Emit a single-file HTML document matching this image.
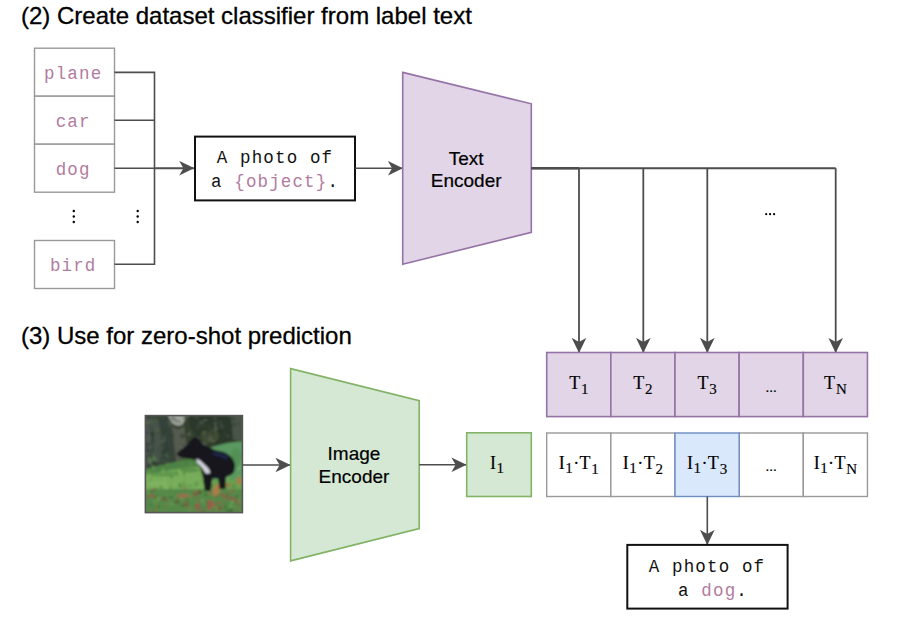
<!DOCTYPE html>
<html><head><meta charset="utf-8">
<style>
html,body{margin:0;padding:0;background:#fff;overflow:hidden;}
svg{display:block;}
.sans{font-family:"Liberation Sans",sans-serif;}
.mono{font-family:"Liberation Mono",monospace;}
.serif{font-family:"Liberation Serif",serif;}
</style></head><body>
<svg width="906" height="624" viewBox="0 0 906 624">
<defs>
<marker id="ah" viewBox="0 0 15 15" markerWidth="15" markerHeight="15" refX="14.6" refY="7.5" orient="auto" markerUnits="userSpaceOnUse">
<path d="M0,0.2 L15,7.5 L0,14.8 L4.2,7.5 Z" fill="#4d4d4d"/>
</marker>
</defs>
<rect width="906" height="624" fill="#fff"/>
<text class="sans" x="21" y="23.8" font-size="24" fill="#000" stroke="#000" stroke-width="0.3">(2) Create dataset classifier from label text</text>
<text class="sans" x="21" y="343.5" font-size="24" fill="#000" stroke="#000" stroke-width="0.3">(3) Use for zero-shot prediction</text>
<g fill="#fff" stroke="#999" stroke-width="1.4">
<rect x="34.5" y="48.2" width="80" height="48"/>
<rect x="34.5" y="96.2" width="80" height="48"/>
<rect x="34.5" y="144.2" width="80" height="48"/>
<rect x="34.5" y="240.5" width="80" height="48"/>
</g>
<g class="mono" font-size="17.5" letter-spacing="1.14" fill="#b27c9e" text-anchor="middle">
<text x="73.2" y="79.3">plane</text>
<text x="73.2" y="127.3">car</text>
<text x="73.2" y="175.3">dog</text>
<text x="73.2" y="271.3">bird</text>
</g>
<g fill="#000">
<circle cx="73.8" cy="211" r="1.2"/><circle cx="73.8" cy="216.5" r="1.2"/><circle cx="73.8" cy="222" r="1.2"/>
<circle cx="137.7" cy="211" r="1.2"/><circle cx="137.7" cy="216.5" r="1.2"/><circle cx="137.7" cy="222" r="1.2"/>
</g>
<g fill="none" stroke="#4d4d4d" stroke-width="1.6">
<path d="M114.5,72.4 H154.5 V264.3 H114.5"/>
<path d="M114.5,120.3 H154.5"/>
<path d="M114.5,168.2 H154.5"/>
</g>
<path d="M154.5,168.2 H193.8" stroke="#4d4d4d" stroke-width="2" marker-end="url(#ah)"/>
<rect x="195" y="136.6" width="160" height="63.8" fill="#fff" stroke="#111" stroke-width="2"/>
<g class="mono" font-size="17.5" letter-spacing="1.14" fill="#111" text-anchor="middle">
<text x="275" y="162.7">A photo of</text>
<text x="275" y="186.7">a <tspan fill="#b27c9e">{object}</tspan>.</text>
</g>
<path d="M355,168.3 H402.5" stroke="#4d4d4d" stroke-width="1.6" marker-end="url(#ah)"/>
<path d="M402.7,72.4 L531.3,103.8 L531.3,232.4 L402.7,264.2 Z" fill="#e1d5e7" stroke="#9673a6" stroke-width="1.6"/>
<g class="sans" font-size="19" fill="#000" stroke="#000" stroke-width="0.2" text-anchor="middle">
<text x="466.2" y="164.5">Text</text>
<text x="466.2" y="186.9">Encoder</text>
</g>
<path d="M531.3,168.2 H835.7" stroke="#4d4d4d" stroke-width="2" fill="none"/>
<path d="M531.3,168.2 H579" stroke="#4d4d4d" stroke-width="2.5" fill="none"/>
<g stroke="#4d4d4d" stroke-width="1.8" fill="none">
<path d="M579,168.2 V352.5" marker-end="url(#ah)"/>
<path d="M643.3,168.2 V352.5" marker-end="url(#ah)"/>
<path d="M707.3,168.2 V352.5" marker-end="url(#ah)"/>
<path d="M835.7,168.2 V352.5" marker-end="url(#ah)"/>
</g>
<g fill="#000"><circle cx="766.2" cy="214.2" r="1.1"/><circle cx="770.1" cy="214.2" r="1.1"/><circle cx="774.1" cy="214.2" r="1.1"/></g>

<g fill="#e1d5e7" stroke="#9673a6" stroke-width="1.6">
<rect x="546.70" y="352.5" width="64.15" height="64.1"/>
<rect x="610.85" y="352.5" width="64.15" height="64.1"/>
<rect x="675.00" y="352.5" width="64.15" height="64.1"/>
<rect x="739.15" y="352.5" width="64.15" height="64.1"/>
<rect x="803.30" y="352.5" width="64.15" height="64.1"/>
</g>
<g fill="#fff" stroke="#999" stroke-width="1.4">
<rect x="546.70" y="433" width="64.15" height="63.5"/>
<rect x="610.85" y="433" width="64.15" height="63.5"/>
<rect x="739.15" y="433" width="64.15" height="63.5"/>
<rect x="803.30" y="433" width="64.15" height="63.5"/>
</g>
<rect x="675.00" y="433" width="64.15" height="63.5" fill="#dae8fc" stroke="#6c8ebf" stroke-width="1.4"/>
<g class="serif" font-size="18" fill="#000" stroke="#000" stroke-width="0.15" text-anchor="middle">
<text x="578.8" y="389">T<tspan font-size="15" dx="0.8" dy="4.8">1</tspan></text>
<text x="578.8" y="468.8">I<tspan font-size="15" dx="0.5" dy="4">1</tspan><tspan dy="-4" dx="0.4">·</tspan><tspan dx="0.4">T</tspan><tspan font-size="15" dx="0.8" dy="4.8">1</tspan></text>
<text x="642.9" y="389">T<tspan font-size="15" dx="0.8" dy="4.8">2</tspan></text>
<text x="642.9" y="468.8">I<tspan font-size="15" dx="0.5" dy="4">1</tspan><tspan dy="-4" dx="0.4">·</tspan><tspan dx="0.4">T</tspan><tspan font-size="15" dx="0.8" dy="4.8">2</tspan></text>
<text x="707.1" y="389">T<tspan font-size="15" dx="0.8" dy="4.8">3</tspan></text>
<text x="707.1" y="468.8">I<tspan font-size="15" dx="0.5" dy="4">1</tspan><tspan dy="-4" dx="0.4">·</tspan><tspan dx="0.4">T</tspan><tspan font-size="15" dx="0.8" dy="4.8">3</tspan></text>
<text x="835.4" y="389">T<tspan font-size="15" dx="0.8" dy="4.8">N</tspan></text>
<text x="835.4" y="468.8">I<tspan font-size="15" dx="0.5" dy="4">1</tspan><tspan dy="-4" dx="0.4">·</tspan><tspan dx="0.4">T</tspan><tspan font-size="15" dx="0.8" dy="4.8">N</tspan></text>
<text x="771.2" y="391.5" font-size="15">...</text>
<text x="771.2" y="471" font-size="15">...</text>
</g>
<path d="M707.3,496.5 V544.5" stroke="#4d4d4d" stroke-width="1.6" marker-end="url(#ah)"/>
<rect x="627.3" y="544.9" width="160.3" height="63.7" fill="#fff" stroke="#111" stroke-width="2"/>
<g class="mono" font-size="17.5" letter-spacing="1.14" fill="#111" text-anchor="middle">
<text x="707" y="571.8">A photo of</text>
<text x="713" y="595.9">a <tspan fill="#b27c9e">dog</tspan>.</text>
</g>
<g id="photo">
<defs>
<clipPath id="pc"><rect x="145.4" y="415.6" width="97" height="97"/></clipPath>
<filter id="bl" x="-10%" y="-10%" width="120%" height="120%"><feGaussianBlur stdDeviation="1.0"/></filter>
</defs>
<g clip-path="url(#pc)">
<g filter="url(#bl)">
<rect x="140" y="410" width="110" height="110" fill="#68a050"/>
<path d="M140,410 H250 V444 Q232,443 212,447 L200,456 Q176,464 140,470 Z" fill="#35412f"/>
<path d="M146,417 Q158,414 170,418 Q176,440 174,467 L146,470 Z" fill="#34423a"/>
<path d="M146,417 L152,417 Q150,440 152,466 L146,468 Z" fill="#5a625c" opacity="0.7"/>
<path d="M150,420 Q156,440 152,462 L160,462 Q164,440 158,420 Z" fill="#56645a" opacity="0.5"/>
<path d="M167,414 H187 L183,424 Q178,428 172,423 Z" fill="#c4c8c6" opacity="0.75"/>
<path d="M172,426 Q178,432 184,426 L188,456 L176,462 Z" fill="#6a6d68" opacity="0.6"/>
<path d="M184,410 H250 V441 Q230,441 212,446 L196,437 Z" fill="#2c372b"/>
<ellipse cx="210" cy="436" rx="9" ry="7" fill="#56643e" opacity="0.5"/>
<path d="M231,414 H250 V440 H233 Z" fill="#525c4e" opacity="0.8"/>
<ellipse cx="188.9" cy="433.9" rx="1.7" ry="2.3" fill="#647060" opacity="0.6"/>
<ellipse cx="163.4" cy="441.7" rx="1.9" ry="2.2" fill="#647060" opacity="0.6"/>
<ellipse cx="154.1" cy="425.7" rx="1.8" ry="2.3" fill="#46544a" opacity="0.6"/>
<ellipse cx="206.5" cy="435.1" rx="2.4" ry="2.0" fill="#3c4a3e" opacity="0.6"/>
<ellipse cx="204.7" cy="421.0" rx="2.2" ry="1.1" fill="#28322a" opacity="0.6"/>
<ellipse cx="148.5" cy="444.1" rx="2.2" ry="1.5" fill="#28322a" opacity="0.6"/>
<ellipse cx="202.3" cy="422.3" rx="2.0" ry="1.7" fill="#52604c" opacity="0.6"/>
<ellipse cx="209.3" cy="430.6" rx="1.6" ry="1.8" fill="#2c3629" opacity="0.6"/>
<ellipse cx="235.4" cy="418.7" rx="1.5" ry="1.3" fill="#2c3629" opacity="0.6"/>
<ellipse cx="173.0" cy="418.2" rx="1.6" ry="2.3" fill="#46544a" opacity="0.6"/>
<ellipse cx="182.5" cy="446.7" rx="1.3" ry="2.4" fill="#28322a" opacity="0.6"/>
<ellipse cx="150.1" cy="428.0" rx="1.6" ry="1.8" fill="#3c4a3e" opacity="0.6"/>
<ellipse cx="164.3" cy="437.6" rx="1.1" ry="1.5" fill="#5a6842" opacity="0.6"/>
<ellipse cx="238.5" cy="440.3" rx="1.2" ry="2.1" fill="#46544a" opacity="0.6"/>
<ellipse cx="146.1" cy="430.9" rx="1.3" ry="1.8" fill="#647060" opacity="0.6"/>
<ellipse cx="188.4" cy="422.1" rx="1.6" ry="1.6" fill="#34402f" opacity="0.6"/>
<ellipse cx="183.3" cy="447.7" rx="1.4" ry="2.5" fill="#28322a" opacity="0.6"/>
<ellipse cx="222.9" cy="425.7" rx="1.3" ry="1.6" fill="#28322a" opacity="0.6"/>
<ellipse cx="227.9" cy="436.5" rx="1.1" ry="1.2" fill="#46544a" opacity="0.6"/>
<ellipse cx="187.8" cy="416.3" rx="2.2" ry="1.6" fill="#5a6842" opacity="0.6"/>
<ellipse cx="152.2" cy="422.7" rx="1.0" ry="1.6" fill="#52604c" opacity="0.6"/>
<ellipse cx="205.3" cy="420.1" rx="2.2" ry="1.2" fill="#647060" opacity="0.6"/>
<ellipse cx="182.5" cy="436.1" rx="2.4" ry="2.2" fill="#2c3629" opacity="0.6"/>
<ellipse cx="169.2" cy="422.1" rx="2.0" ry="1.6" fill="#52604c" opacity="0.6"/>
<ellipse cx="191.8" cy="418.5" rx="1.2" ry="1.1" fill="#28322a" opacity="0.6"/>
<ellipse cx="238.4" cy="423.6" rx="1.4" ry="2.2" fill="#3c4a3e" opacity="0.6"/>
<ellipse cx="202.9" cy="425.4" rx="2.4" ry="2.5" fill="#34402f" opacity="0.6"/>
<ellipse cx="157.3" cy="431.3" rx="1.4" ry="2.4" fill="#46544a" opacity="0.6"/>
<ellipse cx="164.8" cy="416.5" rx="1.6" ry="1.4" fill="#2c3629" opacity="0.6"/>
<ellipse cx="149.5" cy="425.0" rx="1.1" ry="1.2" fill="#34402f" opacity="0.6"/>
<ellipse cx="188.7" cy="426.6" rx="1.9" ry="2.4" fill="#34402f" opacity="0.6"/>
<ellipse cx="191.1" cy="427.4" rx="2.4" ry="1.0" fill="#2c3629" opacity="0.6"/>
<ellipse cx="206.7" cy="431.4" rx="1.5" ry="2.5" fill="#2c3629" opacity="0.6"/>
<ellipse cx="152.3" cy="433.5" rx="2.4" ry="2.1" fill="#28322a" opacity="0.6"/>
<ellipse cx="213.3" cy="441.4" rx="1.5" ry="2.0" fill="#5a6842" opacity="0.6"/>
<ellipse cx="232.4" cy="443.9" rx="2.4" ry="1.0" fill="#3c4a3e" opacity="0.6"/>
<ellipse cx="193.5" cy="416.5" rx="1.6" ry="1.0" fill="#3c4a3e" opacity="0.6"/>
<ellipse cx="152.0" cy="418.9" rx="2.5" ry="2.3" fill="#46544a" opacity="0.6"/>
<ellipse cx="215.6" cy="428.4" rx="1.7" ry="2.3" fill="#647060" opacity="0.6"/>
<ellipse cx="153.1" cy="440.0" rx="1.5" ry="1.1" fill="#28322a" opacity="0.6"/>
<ellipse cx="147.2" cy="446.6" rx="1.7" ry="1.9" fill="#46544a" opacity="0.6"/>
<ellipse cx="234.3" cy="424.2" rx="1.6" ry="1.2" fill="#28322a" opacity="0.6"/>
<ellipse cx="204.3" cy="432.6" rx="2.0" ry="1.7" fill="#5a6842" opacity="0.6"/>
<ellipse cx="231.5" cy="426.5" rx="1.3" ry="1.6" fill="#2c3629" opacity="0.6"/>
<ellipse cx="223.2" cy="445.3" rx="1.6" ry="1.9" fill="#52604c" opacity="0.6"/>
<ellipse cx="175.7" cy="420.4" rx="1.5" ry="2.3" fill="#647060" opacity="0.6"/>
<ellipse cx="148.9" cy="418.1" rx="2.2" ry="1.2" fill="#2c3629" opacity="0.6"/>
<ellipse cx="190.7" cy="445.6" rx="1.6" ry="1.8" fill="#3c4a3e" opacity="0.6"/>
<ellipse cx="210.2" cy="438.9" rx="1.5" ry="2.2" fill="#647060" opacity="0.6"/>
<ellipse cx="172.0" cy="435.4" rx="1.9" ry="1.5" fill="#2c3629" opacity="0.6"/>
<ellipse cx="221.8" cy="416.6" rx="1.6" ry="1.3" fill="#34402f" opacity="0.6"/>
<ellipse cx="219.6" cy="424.5" rx="2.2" ry="2.5" fill="#34402f" opacity="0.6"/>
<ellipse cx="156.2" cy="419.5" rx="2.4" ry="2.0" fill="#5a6842" opacity="0.6"/>
<ellipse cx="164.3" cy="431.2" rx="2.1" ry="2.1" fill="#34402f" opacity="0.6"/>
<ellipse cx="196.9" cy="417.2" rx="1.4" ry="1.5" fill="#52604c" opacity="0.6"/>
<ellipse cx="212.6" cy="432.7" rx="1.6" ry="2.2" fill="#34402f" opacity="0.6"/>
<ellipse cx="232.9" cy="418.8" rx="1.2" ry="1.7" fill="#3c4a3e" opacity="0.6"/>
<ellipse cx="205.7" cy="445.1" rx="1.8" ry="2.0" fill="#3c4a3e" opacity="0.6"/>
<ellipse cx="193.8" cy="442.2" rx="1.7" ry="2.0" fill="#5a6842" opacity="0.6"/>
<ellipse cx="164.9" cy="439.1" rx="1.3" ry="2.3" fill="#46544a" opacity="0.6"/>
<ellipse cx="240.1" cy="447.3" rx="1.4" ry="2.1" fill="#5a6842" opacity="0.6"/>
<ellipse cx="146.5" cy="432.2" rx="1.7" ry="1.8" fill="#28322a" opacity="0.6"/>
<ellipse cx="219.5" cy="431.6" rx="1.3" ry="2.3" fill="#28322a" opacity="0.6"/>
<ellipse cx="186.6" cy="417.1" rx="2.0" ry="2.4" fill="#5a6842" opacity="0.6"/>
<ellipse cx="190.6" cy="448.0" rx="2.4" ry="1.7" fill="#647060" opacity="0.6"/>
<ellipse cx="237.1" cy="418.8" rx="1.7" ry="1.8" fill="#52604c" opacity="0.6"/>
<ellipse cx="225.6" cy="434.0" rx="1.8" ry="2.3" fill="#34402f" opacity="0.6"/>
<ellipse cx="199.3" cy="426.0" rx="2.4" ry="2.3" fill="#3c4a3e" opacity="0.6"/>
<ellipse cx="204.1" cy="425.7" rx="2.5" ry="1.8" fill="#34402f" opacity="0.6"/>
<ellipse cx="200.6" cy="422.4" rx="1.8" ry="1.9" fill="#46544a" opacity="0.6"/>
<ellipse cx="147.7" cy="447.0" rx="1.8" ry="2.5" fill="#3c4a3e" opacity="0.6"/>
<ellipse cx="156.8" cy="419.0" rx="1.1" ry="1.8" fill="#34402f" opacity="0.6"/>
<ellipse cx="185.1" cy="446.6" rx="1.4" ry="1.7" fill="#3c4a3e" opacity="0.6"/>
<ellipse cx="157.3" cy="429.9" rx="1.8" ry="1.2" fill="#647060" opacity="0.6"/>
<ellipse cx="185.7" cy="416.9" rx="1.2" ry="2.2" fill="#2c3629" opacity="0.6"/>
<ellipse cx="147.2" cy="422.2" rx="1.0" ry="1.4" fill="#52604c" opacity="0.6"/>
<ellipse cx="215.2" cy="423.8" rx="1.2" ry="2.1" fill="#647060" opacity="0.6"/>
<ellipse cx="156.9" cy="432.3" rx="2.1" ry="2.1" fill="#2c3629" opacity="0.6"/>
<ellipse cx="230.2" cy="416.7" rx="2.2" ry="1.9" fill="#3c4a3e" opacity="0.6"/>
<ellipse cx="197.2" cy="443.6" rx="1.8" ry="2.3" fill="#52604c" opacity="0.6"/>
<ellipse cx="204.3" cy="443.4" rx="2.4" ry="1.9" fill="#52604c" opacity="0.6"/>
<ellipse cx="178.7" cy="421.8" rx="2.3" ry="1.3" fill="#5a6842" opacity="0.6"/>
<ellipse cx="220.5" cy="422.2" rx="1.2" ry="1.4" fill="#46544a" opacity="0.6"/>
<ellipse cx="215.5" cy="424.3" rx="1.7" ry="2.4" fill="#46544a" opacity="0.6"/>
<ellipse cx="197.7" cy="438.6" rx="1.6" ry="2.0" fill="#52604c" opacity="0.6"/>
<ellipse cx="146.7" cy="422.4" rx="2.4" ry="2.5" fill="#5a6842" opacity="0.6"/>
<ellipse cx="156.2" cy="432.2" rx="1.8" ry="2.0" fill="#5a6842" opacity="0.6"/>
<ellipse cx="163.3" cy="418.3" rx="1.0" ry="2.1" fill="#46544a" opacity="0.6"/>
<ellipse cx="204.5" cy="445.0" rx="1.2" ry="1.3" fill="#647060" opacity="0.6"/>
<ellipse cx="164.8" cy="442.9" rx="2.4" ry="1.1" fill="#2c3629" opacity="0.6"/>
<ellipse cx="151.0" cy="446.4" rx="1.1" ry="1.1" fill="#647060" opacity="0.6"/>
<ellipse cx="182.9" cy="429.6" rx="1.6" ry="1.9" fill="#5a6842" opacity="0.6"/>
<ellipse cx="146.3" cy="438.4" rx="1.3" ry="1.7" fill="#52604c" opacity="0.6"/>
<ellipse cx="216.7" cy="429.0" rx="1.9" ry="1.1" fill="#52604c" opacity="0.6"/>
<ellipse cx="221.9" cy="426.4" rx="2.2" ry="2.1" fill="#46544a" opacity="0.6"/>
<ellipse cx="228.5" cy="436.1" rx="1.9" ry="1.3" fill="#3c4a3e" opacity="0.6"/>
<ellipse cx="201.7" cy="426.9" rx="1.4" ry="1.2" fill="#2c3629" opacity="0.6"/>
<ellipse cx="217.1" cy="421.1" rx="1.2" ry="1.5" fill="#3c4a3e" opacity="0.6"/>
<ellipse cx="197.3" cy="427.8" rx="2.1" ry="1.6" fill="#3c4a3e" opacity="0.6"/>
<ellipse cx="215.1" cy="418.3" rx="1.5" ry="1.2" fill="#5a6842" opacity="0.6"/>
<ellipse cx="231.1" cy="447.7" rx="1.3" ry="2.4" fill="#28322a" opacity="0.6"/>
<ellipse cx="209.6" cy="426.8" rx="1.9" ry="1.8" fill="#3c4a3e" opacity="0.6"/>
<ellipse cx="182.8" cy="448.0" rx="2.1" ry="2.1" fill="#52604c" opacity="0.6"/>
<ellipse cx="240.1" cy="416.7" rx="2.1" ry="1.4" fill="#46544a" opacity="0.6"/>
<ellipse cx="184.0" cy="417.6" rx="2.0" ry="1.0" fill="#52604c" opacity="0.6"/>
<ellipse cx="170.1" cy="424.8" rx="1.8" ry="1.8" fill="#5a6842" opacity="0.6"/>
<ellipse cx="238.8" cy="434.2" rx="2.0" ry="2.2" fill="#46544a" opacity="0.6"/>
<ellipse cx="152.4" cy="435.1" rx="1.6" ry="2.4" fill="#28322a" opacity="0.6"/>
<ellipse cx="182.4" cy="447.0" rx="1.8" ry="1.9" fill="#647060" opacity="0.6"/>
<ellipse cx="186.7" cy="431.8" rx="1.8" ry="1.9" fill="#2c3629" opacity="0.6"/>
<ellipse cx="155.5" cy="452.3" rx="1.8" ry="1.4" fill="#34402f" opacity="0.6"/>
<ellipse cx="164.6" cy="452.5" rx="2.2" ry="1.9" fill="#28322a" opacity="0.6"/>
<ellipse cx="162.5" cy="455.0" rx="1.1" ry="1.5" fill="#52604c" opacity="0.6"/>
<ellipse cx="156.3" cy="458.8" rx="1.1" ry="2.4" fill="#34402f" opacity="0.6"/>
<ellipse cx="157.2" cy="456.5" rx="1.1" ry="1.1" fill="#46544a" opacity="0.6"/>
<ellipse cx="167.1" cy="466.0" rx="2.5" ry="2.2" fill="#46544a" opacity="0.6"/>
<ellipse cx="161.7" cy="448.5" rx="1.7" ry="1.3" fill="#52604c" opacity="0.6"/>
<ellipse cx="147.4" cy="457.6" rx="1.5" ry="1.2" fill="#28322a" opacity="0.6"/>
<ellipse cx="156.8" cy="459.2" rx="1.5" ry="2.1" fill="#52604c" opacity="0.6"/>
<ellipse cx="167.2" cy="449.0" rx="2.1" ry="1.4" fill="#34402f" opacity="0.6"/>
<ellipse cx="149.0" cy="465.6" rx="1.4" ry="1.9" fill="#34402f" opacity="0.6"/>
<ellipse cx="164.9" cy="461.4" rx="1.9" ry="2.1" fill="#46544a" opacity="0.6"/>
<ellipse cx="150.9" cy="451.5" rx="2.3" ry="1.1" fill="#46544a" opacity="0.6"/>
<ellipse cx="147.6" cy="452.0" rx="1.0" ry="1.1" fill="#52604c" opacity="0.6"/>
<ellipse cx="151.8" cy="452.1" rx="2.4" ry="1.2" fill="#28322a" opacity="0.6"/>
<ellipse cx="152.1" cy="467.6" rx="1.7" ry="1.3" fill="#52604c" opacity="0.6"/>
<ellipse cx="154.9" cy="462.4" rx="2.2" ry="1.7" fill="#28322a" opacity="0.6"/>
<ellipse cx="167.4" cy="464.4" rx="1.7" ry="2.1" fill="#46544a" opacity="0.6"/>
<ellipse cx="156.1" cy="449.3" rx="2.0" ry="2.5" fill="#46544a" opacity="0.6"/>
<ellipse cx="154.5" cy="458.1" rx="1.6" ry="1.6" fill="#46544a" opacity="0.6"/>
<ellipse cx="148.5" cy="465.3" rx="1.8" ry="1.6" fill="#28322a" opacity="0.6"/>
<ellipse cx="160.8" cy="463.9" rx="1.4" ry="2.2" fill="#52604c" opacity="0.6"/>
<ellipse cx="148.0" cy="450.7" rx="2.0" ry="1.7" fill="#28322a" opacity="0.6"/>
<ellipse cx="165.9" cy="453.2" rx="1.3" ry="2.0" fill="#46544a" opacity="0.6"/>
<ellipse cx="154.5" cy="465.9" rx="2.1" ry="1.9" fill="#34402f" opacity="0.6"/>
<ellipse cx="169.9" cy="466.7" rx="1.7" ry="2.2" fill="#34402f" opacity="0.6"/>
<ellipse cx="153.9" cy="453.0" rx="2.5" ry="2.1" fill="#52604c" opacity="0.6"/>
<ellipse cx="159.4" cy="447.9" rx="1.0" ry="2.0" fill="#34402f" opacity="0.6"/>
<ellipse cx="161.2" cy="463.5" rx="2.2" ry="1.8" fill="#34402f" opacity="0.6"/>
<ellipse cx="167.7" cy="458.4" rx="1.1" ry="1.7" fill="#46544a" opacity="0.6"/>
<ellipse cx="168.2" cy="463.9" rx="1.8" ry="1.8" fill="#46544a" opacity="0.6"/>
<ellipse cx="160.8" cy="467.3" rx="1.1" ry="1.8" fill="#52604c" opacity="0.6"/>
<ellipse cx="166.5" cy="447.8" rx="1.4" ry="1.2" fill="#28322a" opacity="0.6"/>
<ellipse cx="154.2" cy="446.6" rx="1.1" ry="2.2" fill="#46544a" opacity="0.6"/>
<ellipse cx="157.0" cy="461.7" rx="2.1" ry="1.8" fill="#52604c" opacity="0.6"/>
<ellipse cx="165.9" cy="454.7" rx="2.2" ry="1.5" fill="#34402f" opacity="0.6"/>
<ellipse cx="149.6" cy="456.7" rx="2.1" ry="2.4" fill="#28322a" opacity="0.6"/>
<ellipse cx="156.7" cy="464.2" rx="2.3" ry="2.2" fill="#34402f" opacity="0.6"/>
<ellipse cx="167.7" cy="465.6" rx="1.8" ry="2.1" fill="#28322a" opacity="0.6"/>
<ellipse cx="166.9" cy="455.3" rx="2.4" ry="1.4" fill="#52604c" opacity="0.6"/>
<path d="M210,448 Q230,441 250,441 V480 H210 Z" fill="#5a9a62"/>
<path d="M140,470 Q172,462 206,456 L206,474 H140 Z" fill="#4e8244"/>
<path d="M140,476 Q172,468 210,466 V490 H140 Z" fill="#78ae5a"/>
<path d="M140,489 H250 V520 H140 Z" fill="#558848"/>
<ellipse cx="165" cy="474" rx="14" ry="3" fill="#4f8a44" opacity="0.6"/>
<ellipse cx="190" cy="470" rx="10" ry="2.5" fill="#4a8040" opacity="0.6"/>
<ellipse cx="158" cy="484" rx="10" ry="2.5" fill="#86b866" opacity="0.6"/>
<ellipse cx="185" cy="486" rx="9" ry="2" fill="#5e964a" opacity="0.5"/>
<ellipse cx="236" cy="458" rx="6" ry="10" fill="#4f8a50" opacity="0.6"/>
<line x1="160.7" y1="492.3" x2="159.9" y2="489.8" stroke="#6aa050" stroke-width="1.1" opacity="0.7"/>
<line x1="173.3" y1="510.4" x2="174.3" y2="507.0" stroke="#4a7e40" stroke-width="1.0" opacity="0.7"/>
<line x1="160.1" y1="507.7" x2="157.6" y2="503.4" stroke="#4a7e40" stroke-width="1.2" opacity="0.7"/>
<line x1="222.6" y1="474.9" x2="221.8" y2="472.3" stroke="#7aae5a" stroke-width="1.0" opacity="0.7"/>
<line x1="214.6" y1="490.1" x2="216.1" y2="486.8" stroke="#7aae5a" stroke-width="1.1" opacity="0.7"/>
<line x1="233.3" y1="508.6" x2="234.7" y2="505.0" stroke="#6aa050" stroke-width="1.2" opacity="0.7"/>
<line x1="170.3" y1="505.9" x2="171.6" y2="501.9" stroke="#5e9448" stroke-width="0.9" opacity="0.7"/>
<line x1="228.7" y1="479.6" x2="230.4" y2="474.7" stroke="#7aae5a" stroke-width="1.1" opacity="0.7"/>
<line x1="196.2" y1="485.9" x2="193.9" y2="481.5" stroke="#5e9448" stroke-width="1.5" opacity="0.7"/>
<line x1="231.5" y1="505.2" x2="230.5" y2="501.8" stroke="#5e9448" stroke-width="1.1" opacity="0.7"/>
<line x1="229.9" y1="480.5" x2="231.1" y2="478.0" stroke="#5e9448" stroke-width="1.4" opacity="0.7"/>
<line x1="157.7" y1="498.1" x2="157.8" y2="495.3" stroke="#3c6a34" stroke-width="0.9" opacity="0.7"/>
<line x1="219.7" y1="458.1" x2="217.5" y2="453.6" stroke="#7aae5a" stroke-width="1.0" opacity="0.7"/>
<line x1="214.5" y1="463.2" x2="212.5" y2="459.2" stroke="#8cc06c" stroke-width="1.4" opacity="0.7"/>
<line x1="197.7" y1="485.3" x2="197.3" y2="481.0" stroke="#4a7e40" stroke-width="1.5" opacity="0.7"/>
<line x1="153.8" y1="502.6" x2="153.6" y2="500.5" stroke="#7aae5a" stroke-width="1.2" opacity="0.7"/>
<line x1="236.8" y1="510.1" x2="235.3" y2="507.1" stroke="#5e9448" stroke-width="1.0" opacity="0.7"/>
<line x1="190.3" y1="496.6" x2="189.4" y2="494.4" stroke="#5e9448" stroke-width="1.3" opacity="0.7"/>
<line x1="210.6" y1="498.3" x2="208.2" y2="494.4" stroke="#4a7e40" stroke-width="1.1" opacity="0.7"/>
<line x1="213.9" y1="470.8" x2="214.6" y2="468.5" stroke="#3c6a34" stroke-width="1.5" opacity="0.7"/>
<line x1="226.9" y1="496.8" x2="227.3" y2="494.4" stroke="#3c6a34" stroke-width="1.5" opacity="0.7"/>
<line x1="217.7" y1="509.5" x2="215.9" y2="505.9" stroke="#8cc06c" stroke-width="1.0" opacity="0.7"/>
<line x1="181.5" y1="463.9" x2="181.9" y2="459.1" stroke="#5e9448" stroke-width="1.4" opacity="0.7"/>
<line x1="177.2" y1="502.7" x2="177.5" y2="500.3" stroke="#4a7e40" stroke-width="0.9" opacity="0.7"/>
<line x1="206.1" y1="467.7" x2="207.4" y2="464.5" stroke="#7aae5a" stroke-width="1.3" opacity="0.7"/>
<line x1="153.7" y1="470.2" x2="153.3" y2="465.3" stroke="#7aae5a" stroke-width="1.4" opacity="0.7"/>
<line x1="178.1" y1="502.5" x2="177.3" y2="500.0" stroke="#3c6a34" stroke-width="0.9" opacity="0.7"/>
<line x1="212.1" y1="484.1" x2="213.1" y2="480.2" stroke="#8cc06c" stroke-width="1.3" opacity="0.7"/>
<line x1="175.8" y1="500.6" x2="176.3" y2="496.6" stroke="#7aae5a" stroke-width="0.8" opacity="0.7"/>
<line x1="177.1" y1="476.5" x2="177.3" y2="473.2" stroke="#6aa050" stroke-width="1.0" opacity="0.7"/>
<line x1="177.3" y1="473.8" x2="175.7" y2="470.0" stroke="#4a7e40" stroke-width="1.4" opacity="0.7"/>
<line x1="232.6" y1="487.6" x2="232.7" y2="483.8" stroke="#5e9448" stroke-width="1.3" opacity="0.7"/>
<line x1="164.2" y1="508.4" x2="166.4" y2="504.3" stroke="#6aa050" stroke-width="1.3" opacity="0.7"/>
<line x1="147.6" y1="493.6" x2="147.5" y2="491.2" stroke="#4a7e40" stroke-width="1.1" opacity="0.7"/>
<line x1="177.4" y1="463.0" x2="178.6" y2="460.2" stroke="#5e9448" stroke-width="1.2" opacity="0.7"/>
<line x1="215.8" y1="470.9" x2="216.1" y2="467.3" stroke="#3c6a34" stroke-width="1.2" opacity="0.7"/>
<line x1="170.6" y1="507.1" x2="168.9" y2="503.3" stroke="#5e9448" stroke-width="1.5" opacity="0.7"/>
<line x1="173.0" y1="506.4" x2="172.3" y2="502.2" stroke="#7aae5a" stroke-width="0.9" opacity="0.7"/>
<line x1="203.0" y1="501.8" x2="202.2" y2="499.7" stroke="#8cc06c" stroke-width="1.6" opacity="0.7"/>
<line x1="236.1" y1="493.6" x2="237.9" y2="489.3" stroke="#5e9448" stroke-width="1.5" opacity="0.7"/>
<line x1="204.7" y1="492.6" x2="204.4" y2="490.1" stroke="#4a7e40" stroke-width="0.8" opacity="0.7"/>
<line x1="196.2" y1="464.4" x2="196.3" y2="461.9" stroke="#8cc06c" stroke-width="1.0" opacity="0.7"/>
<line x1="200.1" y1="475.9" x2="201.3" y2="471.6" stroke="#6aa050" stroke-width="1.4" opacity="0.7"/>
<line x1="184.1" y1="484.9" x2="183.7" y2="481.5" stroke="#4a7e40" stroke-width="1.3" opacity="0.7"/>
<line x1="211.9" y1="498.9" x2="213.9" y2="495.5" stroke="#5e9448" stroke-width="1.5" opacity="0.7"/>
<line x1="227.9" y1="480.1" x2="226.9" y2="477.7" stroke="#8cc06c" stroke-width="1.6" opacity="0.7"/>
<line x1="177.0" y1="486.1" x2="176.0" y2="481.4" stroke="#8cc06c" stroke-width="0.8" opacity="0.7"/>
<line x1="215.4" y1="506.6" x2="214.7" y2="503.5" stroke="#6aa050" stroke-width="1.4" opacity="0.7"/>
<line x1="230.6" y1="505.4" x2="230.5" y2="503.0" stroke="#7aae5a" stroke-width="1.2" opacity="0.7"/>
<line x1="183.5" y1="460.8" x2="184.6" y2="458.5" stroke="#6aa050" stroke-width="1.2" opacity="0.7"/>
<line x1="208.7" y1="508.8" x2="210.1" y2="503.8" stroke="#4a7e40" stroke-width="1.5" opacity="0.7"/>
<line x1="180.8" y1="487.5" x2="179.3" y2="483.1" stroke="#3c6a34" stroke-width="1.4" opacity="0.7"/>
<line x1="200.0" y1="506.8" x2="198.4" y2="503.2" stroke="#4a7e40" stroke-width="1.5" opacity="0.7"/>
<line x1="200.9" y1="482.5" x2="200.2" y2="479.7" stroke="#5e9448" stroke-width="1.1" opacity="0.7"/>
<line x1="151.1" y1="506.3" x2="150.5" y2="503.1" stroke="#3c6a34" stroke-width="1.3" opacity="0.7"/>
<line x1="149.5" y1="459.7" x2="149.4" y2="456.8" stroke="#5e9448" stroke-width="1.5" opacity="0.7"/>
<line x1="239.8" y1="483.5" x2="240.9" y2="480.9" stroke="#7aae5a" stroke-width="1.4" opacity="0.7"/>
<line x1="150.7" y1="475.1" x2="148.0" y2="470.4" stroke="#5e9448" stroke-width="1.3" opacity="0.7"/>
<line x1="212.7" y1="488.2" x2="211.3" y2="484.3" stroke="#3c6a34" stroke-width="1.5" opacity="0.7"/>
<line x1="149.9" y1="463.7" x2="152.3" y2="459.3" stroke="#6aa050" stroke-width="1.0" opacity="0.7"/>
<line x1="185.8" y1="505.5" x2="187.9" y2="501.4" stroke="#5e9448" stroke-width="1.2" opacity="0.7"/>
<line x1="152.7" y1="470.1" x2="153.2" y2="467.7" stroke="#5e9448" stroke-width="1.0" opacity="0.7"/>
<line x1="214.9" y1="485.1" x2="214.2" y2="480.7" stroke="#5e9448" stroke-width="1.3" opacity="0.7"/>
<line x1="230.8" y1="489.9" x2="233.1" y2="484.9" stroke="#7aae5a" stroke-width="0.9" opacity="0.7"/>
<line x1="166.9" y1="465.2" x2="168.2" y2="462.9" stroke="#6aa050" stroke-width="1.2" opacity="0.7"/>
<line x1="196.2" y1="486.7" x2="196.5" y2="484.6" stroke="#4a7e40" stroke-width="1.2" opacity="0.7"/>
<line x1="186.1" y1="488.7" x2="187.0" y2="485.8" stroke="#7aae5a" stroke-width="1.0" opacity="0.7"/>
<line x1="172.1" y1="487.6" x2="170.2" y2="483.2" stroke="#7aae5a" stroke-width="1.5" opacity="0.7"/>
<line x1="205.3" y1="507.5" x2="207.0" y2="504.3" stroke="#3c6a34" stroke-width="1.2" opacity="0.7"/>
<line x1="162.4" y1="488.0" x2="161.4" y2="483.3" stroke="#6aa050" stroke-width="1.2" opacity="0.7"/>
<line x1="148.1" y1="473.7" x2="148.2" y2="469.7" stroke="#6aa050" stroke-width="1.6" opacity="0.7"/>
<line x1="161.9" y1="500.1" x2="161.7" y2="497.8" stroke="#7aae5a" stroke-width="1.3" opacity="0.7"/>
<line x1="198.1" y1="471.8" x2="196.8" y2="467.5" stroke="#6aa050" stroke-width="1.2" opacity="0.7"/>
<line x1="166.5" y1="489.3" x2="165.5" y2="486.5" stroke="#8cc06c" stroke-width="1.6" opacity="0.7"/>
<line x1="150.1" y1="482.2" x2="150.5" y2="479.2" stroke="#7aae5a" stroke-width="1.3" opacity="0.7"/>
<line x1="223.2" y1="485.2" x2="224.2" y2="482.4" stroke="#6aa050" stroke-width="0.9" opacity="0.7"/>
<line x1="233.0" y1="488.7" x2="234.0" y2="485.0" stroke="#3c6a34" stroke-width="1.3" opacity="0.7"/>
<line x1="150.2" y1="481.0" x2="150.7" y2="478.0" stroke="#6aa050" stroke-width="1.2" opacity="0.7"/>
<line x1="170.7" y1="489.8" x2="170.7" y2="485.8" stroke="#4a7e40" stroke-width="1.1" opacity="0.7"/>
<line x1="169.1" y1="484.8" x2="170.6" y2="480.3" stroke="#6aa050" stroke-width="0.8" opacity="0.7"/>
<line x1="184.8" y1="477.7" x2="187.1" y2="473.6" stroke="#7aae5a" stroke-width="0.9" opacity="0.7"/>
<line x1="218.3" y1="490.4" x2="218.1" y2="488.0" stroke="#7aae5a" stroke-width="1.4" opacity="0.7"/>
<line x1="148.8" y1="471.0" x2="148.5" y2="468.6" stroke="#3c6a34" stroke-width="1.0" opacity="0.7"/>
<line x1="186.2" y1="462.1" x2="187.2" y2="458.1" stroke="#4a7e40" stroke-width="1.6" opacity="0.7"/>
<line x1="204.4" y1="474.0" x2="203.3" y2="470.3" stroke="#4a7e40" stroke-width="1.2" opacity="0.7"/>
<line x1="235.4" y1="477.7" x2="237.9" y2="472.8" stroke="#5e9448" stroke-width="1.0" opacity="0.7"/>
<line x1="160.6" y1="489.6" x2="160.9" y2="485.4" stroke="#4a7e40" stroke-width="1.5" opacity="0.7"/>
<line x1="230.8" y1="507.9" x2="230.4" y2="504.5" stroke="#7aae5a" stroke-width="1.5" opacity="0.7"/>
<line x1="182.0" y1="500.2" x2="181.0" y2="496.9" stroke="#7aae5a" stroke-width="1.4" opacity="0.7"/>
<line x1="223.0" y1="483.9" x2="222.9" y2="481.3" stroke="#8cc06c" stroke-width="1.0" opacity="0.7"/>
<line x1="188.4" y1="511.6" x2="188.3" y2="509.1" stroke="#6aa050" stroke-width="1.2" opacity="0.7"/>
<line x1="185.7" y1="460.5" x2="184.8" y2="457.5" stroke="#5e9448" stroke-width="0.8" opacity="0.7"/>
<line x1="162.7" y1="472.2" x2="163.3" y2="468.5" stroke="#8cc06c" stroke-width="1.0" opacity="0.7"/>
<line x1="155.0" y1="461.1" x2="154.2" y2="456.3" stroke="#6aa050" stroke-width="1.4" opacity="0.7"/>
<line x1="215.2" y1="507.0" x2="217.2" y2="502.0" stroke="#4a7e40" stroke-width="1.2" opacity="0.7"/>
<line x1="227.9" y1="478.6" x2="228.0" y2="474.3" stroke="#5e9448" stroke-width="0.8" opacity="0.7"/>
<line x1="183.2" y1="470.9" x2="183.3" y2="468.3" stroke="#4a7e40" stroke-width="0.9" opacity="0.7"/>
<line x1="165.2" y1="480.2" x2="163.6" y2="476.5" stroke="#8cc06c" stroke-width="1.4" opacity="0.7"/>
<line x1="170.3" y1="497.2" x2="171.7" y2="494.0" stroke="#6aa050" stroke-width="1.5" opacity="0.7"/>
<line x1="196.9" y1="482.3" x2="198.3" y2="479.1" stroke="#7aae5a" stroke-width="1.0" opacity="0.7"/>
<line x1="173.3" y1="476.6" x2="174.3" y2="474.2" stroke="#7aae5a" stroke-width="1.4" opacity="0.7"/>
<line x1="191.8" y1="458.6" x2="192.4" y2="455.7" stroke="#6aa050" stroke-width="1.5" opacity="0.7"/>
<line x1="166.0" y1="495.2" x2="166.8" y2="492.9" stroke="#6aa050" stroke-width="1.1" opacity="0.7"/>
<line x1="221.0" y1="472.0" x2="221.0" y2="469.7" stroke="#8cc06c" stroke-width="1.2" opacity="0.7"/>
<line x1="235.3" y1="473.4" x2="234.1" y2="470.5" stroke="#6aa050" stroke-width="1.1" opacity="0.7"/>
<line x1="191.1" y1="467.0" x2="191.2" y2="462.9" stroke="#6aa050" stroke-width="1.4" opacity="0.7"/>
<line x1="233.0" y1="501.4" x2="233.9" y2="497.7" stroke="#8cc06c" stroke-width="1.2" opacity="0.7"/>
<line x1="212.9" y1="459.2" x2="214.1" y2="456.9" stroke="#8cc06c" stroke-width="1.5" opacity="0.7"/>
<line x1="171.4" y1="478.4" x2="172.1" y2="475.5" stroke="#3c6a34" stroke-width="1.5" opacity="0.7"/>
<line x1="152.0" y1="459.9" x2="152.4" y2="455.2" stroke="#5e9448" stroke-width="1.0" opacity="0.7"/>
<line x1="209.8" y1="468.0" x2="209.2" y2="464.9" stroke="#8cc06c" stroke-width="1.5" opacity="0.7"/>
<line x1="148.0" y1="496.2" x2="148.7" y2="491.9" stroke="#7aae5a" stroke-width="1.3" opacity="0.7"/>
<line x1="184.9" y1="480.4" x2="184.8" y2="478.2" stroke="#5e9448" stroke-width="1.2" opacity="0.7"/>
<line x1="238.7" y1="478.8" x2="237.6" y2="474.7" stroke="#7aae5a" stroke-width="1.2" opacity="0.7"/>
<line x1="190.9" y1="459.1" x2="190.0" y2="456.6" stroke="#3c6a34" stroke-width="1.3" opacity="0.7"/>
<line x1="167.8" y1="458.1" x2="164.8" y2="453.1" stroke="#3c6a34" stroke-width="1.2" opacity="0.7"/>
<line x1="227.4" y1="499.3" x2="227.6" y2="495.5" stroke="#4a7e40" stroke-width="1.5" opacity="0.7"/>
<line x1="239.0" y1="476.0" x2="237.6" y2="473.7" stroke="#5e9448" stroke-width="1.4" opacity="0.7"/>
<line x1="165.2" y1="479.4" x2="167.1" y2="474.5" stroke="#7aae5a" stroke-width="0.9" opacity="0.7"/>
<line x1="205.3" y1="484.5" x2="205.0" y2="481.6" stroke="#3c6a34" stroke-width="1.1" opacity="0.7"/>
<line x1="209.8" y1="484.9" x2="209.2" y2="482.2" stroke="#6aa050" stroke-width="0.9" opacity="0.7"/>
<line x1="194.8" y1="464.8" x2="196.7" y2="459.8" stroke="#4a7e40" stroke-width="1.5" opacity="0.7"/>
<line x1="175.1" y1="503.8" x2="175.0" y2="499.5" stroke="#3c6a34" stroke-width="0.9" opacity="0.7"/>
<line x1="229.0" y1="505.0" x2="228.7" y2="501.9" stroke="#4a7e40" stroke-width="1.4" opacity="0.7"/>
<line x1="212.3" y1="471.7" x2="213.0" y2="468.9" stroke="#6aa050" stroke-width="1.1" opacity="0.7"/>
<line x1="177.4" y1="499.0" x2="177.7" y2="494.5" stroke="#3c6a34" stroke-width="1.1" opacity="0.7"/>
<line x1="213.6" y1="491.6" x2="211.6" y2="487.2" stroke="#5e9448" stroke-width="1.1" opacity="0.7"/>
<line x1="209.9" y1="470.5" x2="209.8" y2="465.6" stroke="#7aae5a" stroke-width="1.4" opacity="0.7"/>
<line x1="221.7" y1="508.1" x2="221.3" y2="504.0" stroke="#5e9448" stroke-width="1.3" opacity="0.7"/>
<line x1="183.5" y1="508.4" x2="184.0" y2="506.3" stroke="#7aae5a" stroke-width="0.9" opacity="0.7"/>
<line x1="149.1" y1="473.4" x2="150.4" y2="469.8" stroke="#6aa050" stroke-width="1.1" opacity="0.7"/>
<line x1="232.8" y1="503.0" x2="231.5" y2="500.5" stroke="#8cc06c" stroke-width="1.2" opacity="0.7"/>
<line x1="229.4" y1="493.1" x2="229.8" y2="489.9" stroke="#7aae5a" stroke-width="1.4" opacity="0.7"/>
<line x1="240.2" y1="479.0" x2="239.5" y2="476.4" stroke="#6aa050" stroke-width="1.5" opacity="0.7"/>
<line x1="187.9" y1="503.0" x2="186.5" y2="498.2" stroke="#3c6a34" stroke-width="1.2" opacity="0.7"/>
<line x1="156.7" y1="475.5" x2="156.9" y2="472.7" stroke="#4a7e40" stroke-width="1.0" opacity="0.7"/>
<line x1="183.8" y1="475.4" x2="183.3" y2="471.9" stroke="#4a7e40" stroke-width="1.0" opacity="0.7"/>
<line x1="150.0" y1="461.5" x2="147.6" y2="457.5" stroke="#5e9448" stroke-width="1.1" opacity="0.7"/>
<line x1="158.6" y1="500.6" x2="158.2" y2="497.2" stroke="#8cc06c" stroke-width="1.4" opacity="0.7"/>
<line x1="183.4" y1="461.1" x2="184.9" y2="457.3" stroke="#3c6a34" stroke-width="1.0" opacity="0.7"/>
<line x1="163.3" y1="473.7" x2="163.0" y2="468.7" stroke="#7aae5a" stroke-width="1.5" opacity="0.7"/>
<line x1="215.3" y1="467.5" x2="215.5" y2="462.7" stroke="#4a7e40" stroke-width="1.3" opacity="0.7"/>
<line x1="171.3" y1="459.3" x2="171.3" y2="456.4" stroke="#3c6a34" stroke-width="0.8" opacity="0.7"/>
<line x1="165.4" y1="509.8" x2="164.2" y2="505.5" stroke="#4a7e40" stroke-width="1.0" opacity="0.7"/>
<line x1="234.7" y1="484.7" x2="236.4" y2="480.3" stroke="#5e9448" stroke-width="1.4" opacity="0.7"/>
<line x1="240.6" y1="463.4" x2="241.4" y2="460.2" stroke="#8cc06c" stroke-width="1.0" opacity="0.7"/>
<line x1="233.2" y1="459.3" x2="232.7" y2="456.8" stroke="#3c6a34" stroke-width="1.4" opacity="0.7"/>
<line x1="194.1" y1="472.9" x2="193.9" y2="469.1" stroke="#5e9448" stroke-width="1.0" opacity="0.7"/>
<line x1="151.5" y1="493.3" x2="151.0" y2="491.0" stroke="#3c6a34" stroke-width="1.4" opacity="0.7"/>
<line x1="165.5" y1="498.1" x2="164.5" y2="495.2" stroke="#3c6a34" stroke-width="1.1" opacity="0.7"/>
<line x1="160.1" y1="478.1" x2="158.2" y2="474.8" stroke="#7aae5a" stroke-width="1.2" opacity="0.7"/>
<line x1="184.1" y1="475.4" x2="185.5" y2="470.8" stroke="#3c6a34" stroke-width="0.8" opacity="0.7"/>
<line x1="161.9" y1="461.6" x2="163.3" y2="459.3" stroke="#3c6a34" stroke-width="1.1" opacity="0.7"/>
<line x1="238.4" y1="469.9" x2="240.4" y2="465.5" stroke="#8cc06c" stroke-width="1.5" opacity="0.7"/>
<line x1="151.8" y1="479.1" x2="153.3" y2="474.4" stroke="#5e9448" stroke-width="1.2" opacity="0.7"/>
<line x1="146.0" y1="497.4" x2="146.5" y2="494.3" stroke="#6aa050" stroke-width="1.0" opacity="0.7"/>
<line x1="204.8" y1="505.9" x2="204.8" y2="502.0" stroke="#6aa050" stroke-width="1.3" opacity="0.7"/>
<line x1="156.1" y1="503.2" x2="155.7" y2="499.0" stroke="#6aa050" stroke-width="1.2" opacity="0.7"/>
<line x1="226.2" y1="485.1" x2="226.5" y2="481.3" stroke="#8cc06c" stroke-width="1.2" opacity="0.7"/>
<line x1="148.1" y1="491.9" x2="146.6" y2="489.0" stroke="#8cc06c" stroke-width="0.8" opacity="0.7"/>
<ellipse cx="176.5" cy="500.9" rx="2.8" ry="1.5" fill="#7a5a44" opacity="0.6" transform="rotate(-15 176.5 500.9)"/>
<ellipse cx="216.5" cy="511.7" rx="1.1" ry="1.8" fill="#a87450" opacity="0.6" transform="rotate(20 216.5 511.7)"/>
<ellipse cx="232.0" cy="490.7" rx="2.5" ry="1.4" fill="#9a6448" opacity="0.6" transform="rotate(35 232.0 490.7)"/>
<ellipse cx="225.4" cy="507.1" rx="1.5" ry="1.1" fill="#2f5a2a" opacity="0.6" transform="rotate(-25 225.4 507.1)"/>
<ellipse cx="148.7" cy="496.2" rx="2.5" ry="1.3" fill="#2f5a2a" opacity="0.6" transform="rotate(3 148.7 496.2)"/>
<ellipse cx="229.0" cy="492.7" rx="2.7" ry="1.0" fill="#7a5a44" opacity="0.6" transform="rotate(-31 229.0 492.7)"/>
<ellipse cx="187.7" cy="506.2" rx="1.1" ry="1.3" fill="#9a6448" opacity="0.6" transform="rotate(-36 187.7 506.2)"/>
<ellipse cx="229.4" cy="511.3" rx="2.4" ry="1.0" fill="#8a6a48" opacity="0.6" transform="rotate(-11 229.4 511.3)"/>
<ellipse cx="154.7" cy="488.9" rx="2.7" ry="1.0" fill="#7a5a44" opacity="0.6" transform="rotate(-17 154.7 488.9)"/>
<ellipse cx="185.4" cy="502.7" rx="2.5" ry="1.4" fill="#8a6a48" opacity="0.6" transform="rotate(32 185.4 502.7)"/>
<ellipse cx="152.0" cy="511.7" rx="2.0" ry="1.1" fill="#9a6448" opacity="0.6" transform="rotate(37 152.0 511.7)"/>
<ellipse cx="239.1" cy="501.4" rx="1.7" ry="1.6" fill="#a87450" opacity="0.6" transform="rotate(16 239.1 501.4)"/>
<ellipse cx="226.9" cy="510.7" rx="2.1" ry="1.5" fill="#3a6a30" opacity="0.6" transform="rotate(-26 226.9 510.7)"/>
<ellipse cx="157.4" cy="504.7" rx="1.1" ry="1.1" fill="#a87450" opacity="0.6" transform="rotate(-19 157.4 504.7)"/>
<ellipse cx="178.4" cy="502.9" rx="1.4" ry="1.8" fill="#7a5a44" opacity="0.6" transform="rotate(15 178.4 502.9)"/>
<ellipse cx="216.4" cy="496.6" rx="2.4" ry="1.0" fill="#7a5a44" opacity="0.6" transform="rotate(-34 216.4 496.6)"/>
<ellipse cx="170.8" cy="497.0" rx="1.7" ry="1.3" fill="#2f5a2a" opacity="0.6" transform="rotate(1 170.8 497.0)"/>
<ellipse cx="236.3" cy="496.3" rx="1.8" ry="1.3" fill="#3a6a30" opacity="0.6" transform="rotate(-31 236.3 496.3)"/>
<ellipse cx="156.9" cy="509.0" rx="2.2" ry="1.3" fill="#8a6a48" opacity="0.6" transform="rotate(35 156.9 509.0)"/>
<ellipse cx="182.6" cy="505.8" rx="1.4" ry="1.4" fill="#2f5a2a" opacity="0.6" transform="rotate(-11 182.6 505.8)"/>
<ellipse cx="177.3" cy="502.0" rx="2.7" ry="1.1" fill="#3a6a30" opacity="0.6" transform="rotate(16 177.3 502.0)"/>
<ellipse cx="210.2" cy="493.9" rx="1.7" ry="1.4" fill="#a87450" opacity="0.6" transform="rotate(29 210.2 493.9)"/>
<ellipse cx="182.6" cy="494.7" rx="2.5" ry="1.7" fill="#8a6a48" opacity="0.6" transform="rotate(7 182.6 494.7)"/>
<ellipse cx="198.0" cy="490.4" rx="1.2" ry="1.2" fill="#9a6448" opacity="0.6" transform="rotate(-10 198.0 490.4)"/>
<ellipse cx="215.1" cy="504.1" rx="2.8" ry="1.6" fill="#7a5a44" opacity="0.6" transform="rotate(30 215.1 504.1)"/>
<ellipse cx="209.8" cy="491.7" rx="1.7" ry="1.3" fill="#8a6a48" opacity="0.6" transform="rotate(-15 209.8 491.7)"/>
<ellipse cx="210.1" cy="502.5" rx="2.8" ry="1.8" fill="#9a6448" opacity="0.6" transform="rotate(-8 210.1 502.5)"/>
<ellipse cx="225.4" cy="503.6" rx="1.2" ry="0.9" fill="#3a6a30" opacity="0.6" transform="rotate(40 225.4 503.6)"/>
<ellipse cx="208.7" cy="507.0" rx="1.9" ry="1.4" fill="#9a6448" opacity="0.6" transform="rotate(-0 208.7 507.0)"/>
<ellipse cx="225.5" cy="500.4" rx="2.3" ry="0.9" fill="#8a6a48" opacity="0.6" transform="rotate(-27 225.5 500.4)"/>
<ellipse cx="207.9" cy="503.0" rx="2.6" ry="1.5" fill="#3a6a30" opacity="0.6" transform="rotate(38 207.9 503.0)"/>
<ellipse cx="191.0" cy="509.2" rx="1.8" ry="0.8" fill="#a87450" opacity="0.6" transform="rotate(29 191.0 509.2)"/>
<ellipse cx="236.6" cy="509.5" rx="1.2" ry="1.2" fill="#8a6a48" opacity="0.6" transform="rotate(5 236.6 509.5)"/>
<ellipse cx="239.5" cy="506.6" rx="1.5" ry="1.3" fill="#8a6a48" opacity="0.6" transform="rotate(-30 239.5 506.6)"/>
<ellipse cx="200.1" cy="491.1" rx="1.9" ry="1.1" fill="#8a6a48" opacity="0.6" transform="rotate(-12 200.1 491.1)"/>
<ellipse cx="168.9" cy="502.2" rx="1.1" ry="1.0" fill="#a87450" opacity="0.6" transform="rotate(-4 168.9 502.2)"/>
<ellipse cx="199.1" cy="499.0" rx="2.5" ry="1.3" fill="#8a6a48" opacity="0.6" transform="rotate(-28 199.1 499.0)"/>
<ellipse cx="199.7" cy="492.2" rx="2.1" ry="1.7" fill="#2f5a2a" opacity="0.6" transform="rotate(37 199.7 492.2)"/>
<ellipse cx="185.1" cy="488.3" rx="2.4" ry="0.9" fill="#9a6448" opacity="0.6" transform="rotate(19 185.1 488.3)"/>
<ellipse cx="181.5" cy="495.1" rx="1.1" ry="0.9" fill="#2f5a2a" opacity="0.6" transform="rotate(-16 181.5 495.1)"/>
<ellipse cx="238.7" cy="503.4" rx="1.7" ry="1.1" fill="#8a6a48" opacity="0.6" transform="rotate(-23 238.7 503.4)"/>
<ellipse cx="197.1" cy="503.8" rx="1.6" ry="1.3" fill="#a87450" opacity="0.6" transform="rotate(12 197.1 503.8)"/>
<ellipse cx="231.0" cy="510.7" rx="2.8" ry="1.7" fill="#2f5a2a" opacity="0.6" transform="rotate(-32 231.0 510.7)"/>
<ellipse cx="205.7" cy="494.4" rx="1.5" ry="1.2" fill="#2f5a2a" opacity="0.6" transform="rotate(-6 205.7 494.4)"/>
<ellipse cx="191.3" cy="496.6" rx="1.6" ry="0.9" fill="#a87450" opacity="0.6" transform="rotate(-15 191.3 496.6)"/>
<ellipse cx="196.5" cy="491.9" rx="2.0" ry="1.2" fill="#a87450" opacity="0.6" transform="rotate(-22 196.5 491.9)"/>
<ellipse cx="154.6" cy="496.9" rx="1.6" ry="1.8" fill="#7a5a44" opacity="0.6" transform="rotate(2 154.6 496.9)"/>
<ellipse cx="196.1" cy="505.6" rx="1.7" ry="1.8" fill="#7a5a44" opacity="0.6" transform="rotate(-39 196.1 505.6)"/>
<ellipse cx="202.6" cy="511.1" rx="2.7" ry="1.5" fill="#7a5a44" opacity="0.6" transform="rotate(27 202.6 511.1)"/>
<ellipse cx="165.4" cy="506.3" rx="1.6" ry="1.3" fill="#8a6a48" opacity="0.6" transform="rotate(1 165.4 506.3)"/>
<ellipse cx="218.1" cy="489.3" rx="1.4" ry="1.4" fill="#8a6a48" opacity="0.6" transform="rotate(25 218.1 489.3)"/>
<ellipse cx="236.5" cy="503.5" rx="1.7" ry="1.1" fill="#7a5a44" opacity="0.6" transform="rotate(14 236.5 503.5)"/>
<ellipse cx="153.3" cy="511.6" rx="1.6" ry="1.1" fill="#7a5a44" opacity="0.6" transform="rotate(26 153.3 511.6)"/>
<ellipse cx="221.5" cy="503.4" rx="2.8" ry="1.3" fill="#8a6a48" opacity="0.6" transform="rotate(-8 221.5 503.4)"/>
<ellipse cx="153.1" cy="491.3" rx="2.1" ry="0.8" fill="#7a5a44" opacity="0.6" transform="rotate(35 153.1 491.3)"/>
<ellipse cx="218.0" cy="501.9" rx="2.5" ry="1.3" fill="#8a6a48" opacity="0.6" transform="rotate(-13 218.0 501.9)"/>
<ellipse cx="205.7" cy="509.9" rx="1.3" ry="0.9" fill="#8a6a48" opacity="0.6" transform="rotate(15 205.7 509.9)"/>
<ellipse cx="158.6" cy="506.2" rx="1.8" ry="0.9" fill="#3a6a30" opacity="0.6" transform="rotate(-14 158.6 506.2)"/>
<ellipse cx="216.3" cy="489.7" rx="2.7" ry="1.2" fill="#8a6a48" opacity="0.6" transform="rotate(27 216.3 489.7)"/>
<ellipse cx="214.1" cy="504.9" rx="1.6" ry="1.8" fill="#a87450" opacity="0.6" transform="rotate(5 214.1 504.9)"/>
<ellipse cx="151" cy="496" rx="4" ry="2" fill="#8a6a4a" opacity="0.8"/>
<ellipse cx="164" cy="499" rx="3" ry="1.6" fill="#7a4a3a" opacity="0.7"/>
<ellipse cx="196" cy="494" rx="3.5" ry="2" fill="#8a5040" opacity="0.7" transform="rotate(-20 196 494)"/>
<ellipse cx="224" cy="496" rx="4" ry="2" fill="#9a5844" opacity="0.7" transform="rotate(30 224 496)"/>
<ellipse cx="228" cy="485" rx="3" ry="2" fill="#a86a40" opacity="0.7"/>
<ellipse cx="186" cy="505" rx="3" ry="2" fill="#7a5040" opacity="0.6"/>
<ellipse cx="220" cy="508" rx="3" ry="2" fill="#8a4a40" opacity="0.6"/>
<ellipse cx="183" cy="496" rx="7" ry="2.2" fill="#a0704a" opacity="0.8"/>
<ellipse cx="216.5" cy="490" rx="3.5" ry="6.5" fill="#b87a4a" opacity="0.85" transform="rotate(20 216.5 490)"/>
<ellipse cx="239" cy="481" rx="3" ry="4" fill="#b07a44" opacity="0.8"/>
<ellipse cx="210" cy="505" rx="3" ry="5.5" fill="#a25a4a" opacity="0.8"/>
<ellipse cx="198" cy="507" rx="2.5" ry="4" fill="#985a4c" opacity="0.75"/>
<ellipse cx="233" cy="499" rx="5" ry="2" fill="#8a5a4a" opacity="0.75" transform="rotate(25 233 499)"/>
<path d="M176.5,454 Q178,451.5 180,450.5 Q183,448 186,446 Q189,443 191.5,439.5 Q194,436.5 197,437.5 Q200,440 202,444 Q209,447 215,450 L223.8,452 Q229,454 232.8,459.2 Q235.5,463 235,467 L234,472.6 Q231,476 226,477 L225.5,489 L219.4,489 L218.2,478.5 L212.6,478.5 L210.4,491 L204.8,491 L202.5,476 L200.3,468 Q198,463 195.8,460 L190.2,459 L181.2,457.5 Q178,456.5 176.5,454 Z" fill="#13131b"/>
<path d="M196.4,458.6 Q199,459.5 201.4,461.4 L208.1,468.1 Q210,470.5 210.4,473.2 L205.9,473.7 L201.4,467 L196.9,462.5 Z" fill="#cfd2d8"/>
<path d="M212.6,451.5 Q222,452.5 228.3,456 L227,460 Q220,456 212.6,455 Z" fill="#222a52" opacity="0.8"/>
</g>
</g>
<rect x="145.4" y="415.6" width="97" height="97" fill="none" stroke="#555" stroke-width="1.6"/>
</g>
<path d="M242.3,465 H290" stroke="#4d4d4d" stroke-width="1.6" marker-end="url(#ah)"/>
<path d="M290.6,368.6 L419.2,400.6 L419.2,528.6 L290.6,560.9 Z" fill="#d5e8d4" stroke="#82b366" stroke-width="1.6"/>
<g class="sans" font-size="19" fill="#000" stroke="#000" stroke-width="0.2" text-anchor="middle">
<text x="354" y="460.3">Image</text>
<text x="354" y="483.4">Encoder</text>
</g>
<path d="M419.3,464.8 H466" stroke="#4d4d4d" stroke-width="1.6" marker-end="url(#ah)"/>
<rect x="466.7" y="432.8" width="64.6" height="63.7" fill="#d5e8d4" stroke="#82b366" stroke-width="1.6"/>
<text class="serif" font-size="18" stroke="#000" stroke-width="0.15" text-anchor="middle" x="497" y="468.7">I<tspan font-size="15" dx="0.5" dy="4">1</tspan></text>
</svg>
</body></html>
